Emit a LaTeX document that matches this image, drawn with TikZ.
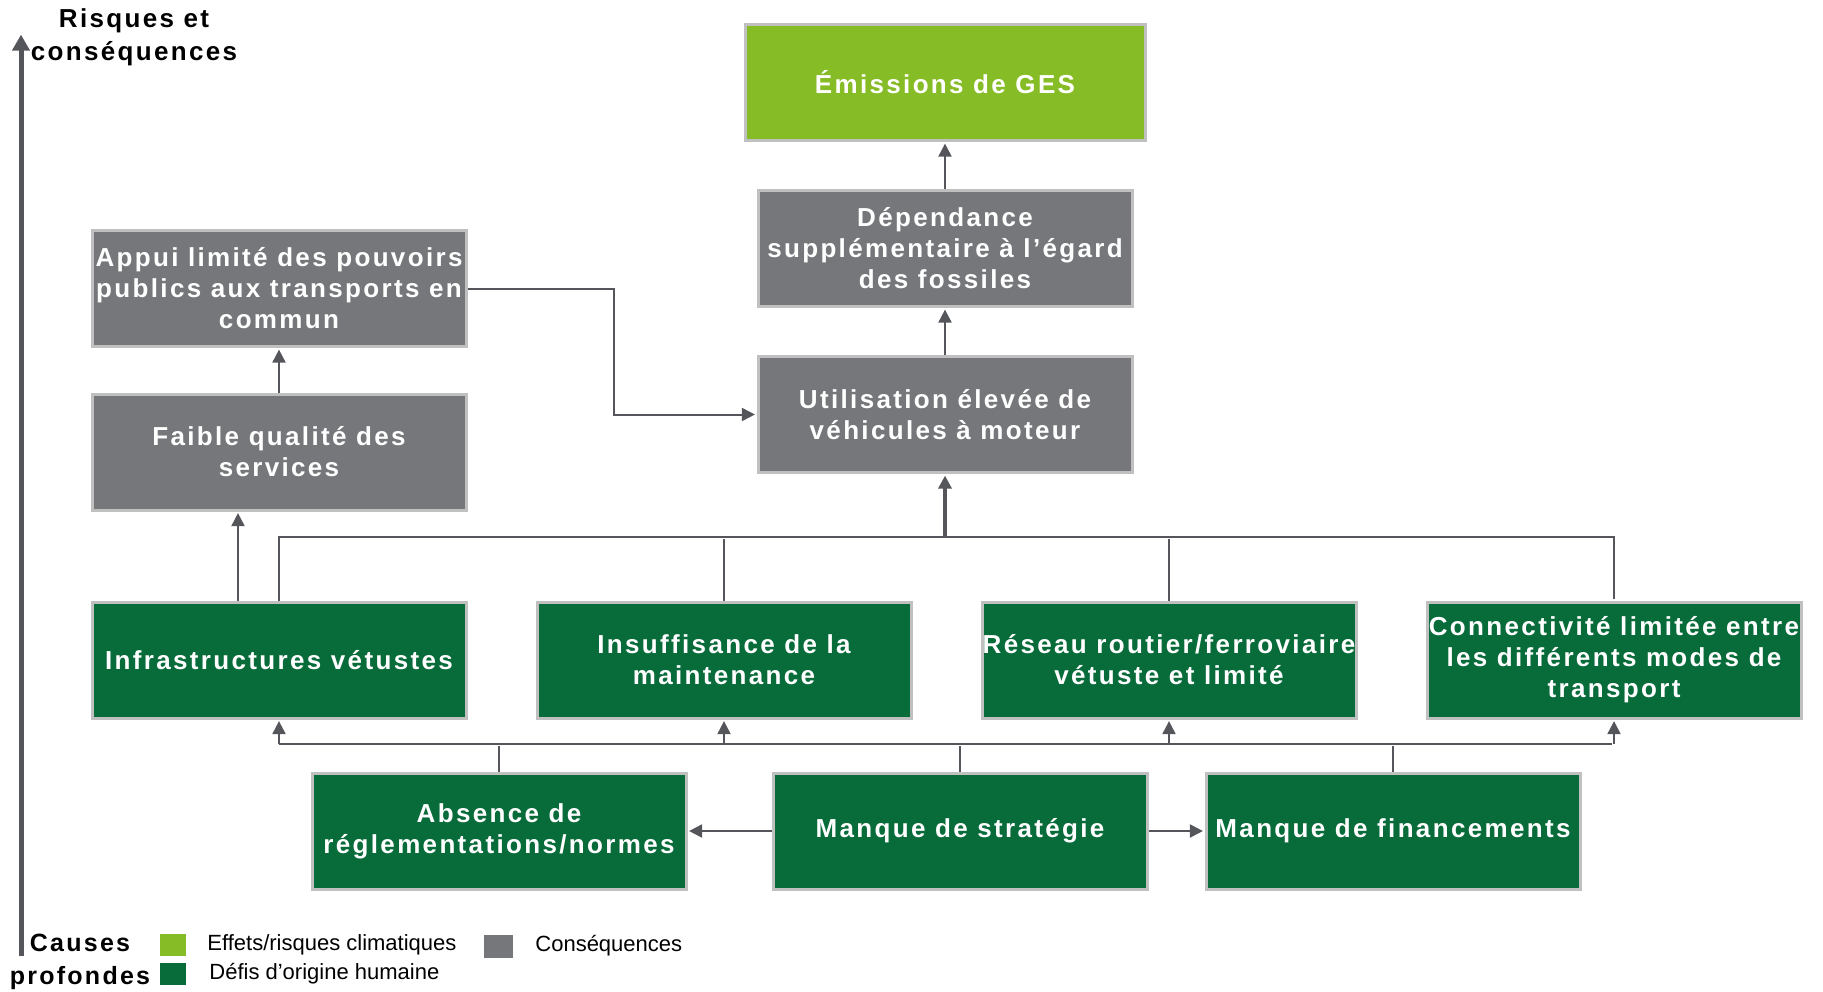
\documentclass[tikz,border=0pt]{standalone}
\usepackage{fontspec}
\setmainfont{Liberation Sans}
\newfontfamily\wideb[LetterSpace=9]{Liberation Sans}
\usetikzlibrary{arrows.meta,positioning}

\definecolor{gesgreen}{HTML}{86BC25}
\definecolor{humgreen}{HTML}{076B3A}
\definecolor{csqgray}{HTML}{75777A}
\definecolor{rimgray}{HTML}{C0C0C0}
\definecolor{linegray}{HTML}{54565B}

\tikzset{
  box/.style={draw=rimgray, line width=1.5pt, text=white, align=center,
    minimum width=187pt, minimum height=58pt, inner sep=0pt,
    font=\wideb\bfseries\fontsize{13}{15.5}\selectfont},
  climat/.style={box, fill=gesgreen},
  humain/.style={box, fill=humgreen},
  csq/.style={box, fill=csqgray},
  link/.style={draw=linegray, line width=1pt},
  linkto/.style={link, -{Triangle[length=6.5pt,width=6.5pt]}},
  legsq/.style={inner sep=0pt, minimum width=13pt, minimum height=11pt},
  legtxt/.style={anchor=west, inner sep=0pt, font=\fontsize{11}{13}\selectfont},
  axistitle/.style={align=center, inner sep=0pt,
    font=\wideb\bfseries\fontsize{13}{16.5}\selectfont}
}

\begin{document}
\begin{tikzpicture}[x=0.5pt,y=-0.5pt,shorten >=0.8pt,node distance=83pt,on grid]
\useasboundingbox (0,0) rectangle (1823,991);

% consequences
\node[csq]    (Utilisation) at (945,414.5)          {Utilisation élevée de\\véhicules à moteur};
\node[csq]    (Dependance)  [above=of Utilisation]  {Dépendance\\supplémentaire à l’égard\\des fossiles};
\node[climat, minimum width=200pt] (Emissions) [above=of Dependance] {Émissions de GES};

% root causes
\node[humain] (Infra)       at (279,660)            {Infrastructures vétustes};
\node[humain] (Insuff)      [right=222.5pt of Infra]  {Insuffisance de la\\maintenance};
\node[humain] (Reseau)      [right=222.5pt of Insuff] {Réseau routier/ferroviaire\\vétuste et limité};
\node[humain] (Connect)     [right=222.5pt of Reseau] {Connectivité limitée entre\\les différents modes de\\transport};
\node[csq]    (Faible)      [above=104pt of Infra]    {Faible qualité des\\services};
\node[csq]    (Appui)       [above=81.75pt of Faible] {Appui limité des pouvoirs\\publics aux transports en\\commun};

\node[humain] (Absence)     at (499,831)            {Absence de\\réglementations/normes};
\node[humain] (Strategie)   at (960,831)            {Manque de stratégie};
\node[humain] (Financement) at (1393,831)           {Manque de financements};

% axis and legend
\coordinate (axisLow)  at (21,956);
\coordinate (axisHigh) at (21,33);
\draw[draw=linegray, line width=2.5pt, -{Triangle[length=8pt,width=8.5pt]}] (axisLow) -- (axisHigh);
\node[axistitle] (risques) at (134,37) {Risques et\\conséquences};
\node[axistitle, font=\wideb\bfseries\fontsize{12.5}{16.5}\selectfont] (causes) at (80,962) {Causes\\profondes};

\node[legsq, fill=gesgreen] (legClimat)  at (173,945)     {};
\node[legsq, fill=humgreen] (legHumain)  at (173,973.5)   {};
\node[legsq, fill=csqgray, minimum width=14.5pt, minimum height=11.5pt] (legCsq) at (498.5,946.5) {};
\node[legtxt] (txtClimat) at (207,945) {Effets/risques climatiques};
\node[legtxt] (txtHumain) at (209,974) {Défis d’origine humaine};
\node[legtxt] (txtCsq)    at (535,946) {Conséquences};

% links
\draw[linkto] (Dependance.north) -- (Emissions.south);
\draw[linkto] (Utilisation.north) -- (Dependance.south);
\draw[linkto] (Faible.north) -- (Appui.south);
\draw[linkto] ([xshift=-20.5pt]Infra.north) -- ([xshift=-20.5pt]Faible.south);
\draw[linkto] (Appui.east) -- ++(73pt,0) |- (Utilisation.west);

\coordinate (topbus) at (0,537);
\coordinate (lowbus) at (0,744);
\draw[link] (Infra.north) |- (Connect.north |- topbus) -- (Connect.north);
\foreach \n in {Insuff,Reseau}
  \draw[link] (\n.north) -- (\n.north |- topbus);
\draw[linkto, line width=1.6pt] (Utilisation.south |- topbus) -- (Utilisation.south);

\draw[link] (Infra.south |- lowbus) -- (Connect.south |- lowbus);
\foreach \n in {Infra,Insuff,Reseau,Connect}
  \draw[linkto] (\n.south |- lowbus) -- (\n.south);
\foreach \n in {Absence,Strategie,Financement}
  \draw[link] (\n.north) -- (\n.north |- lowbus);

\draw[linkto] (Strategie.west) -- (Absence.east);
\draw[linkto] (Strategie.east) -- (Financement.west);
\end{tikzpicture}
\end{document}
